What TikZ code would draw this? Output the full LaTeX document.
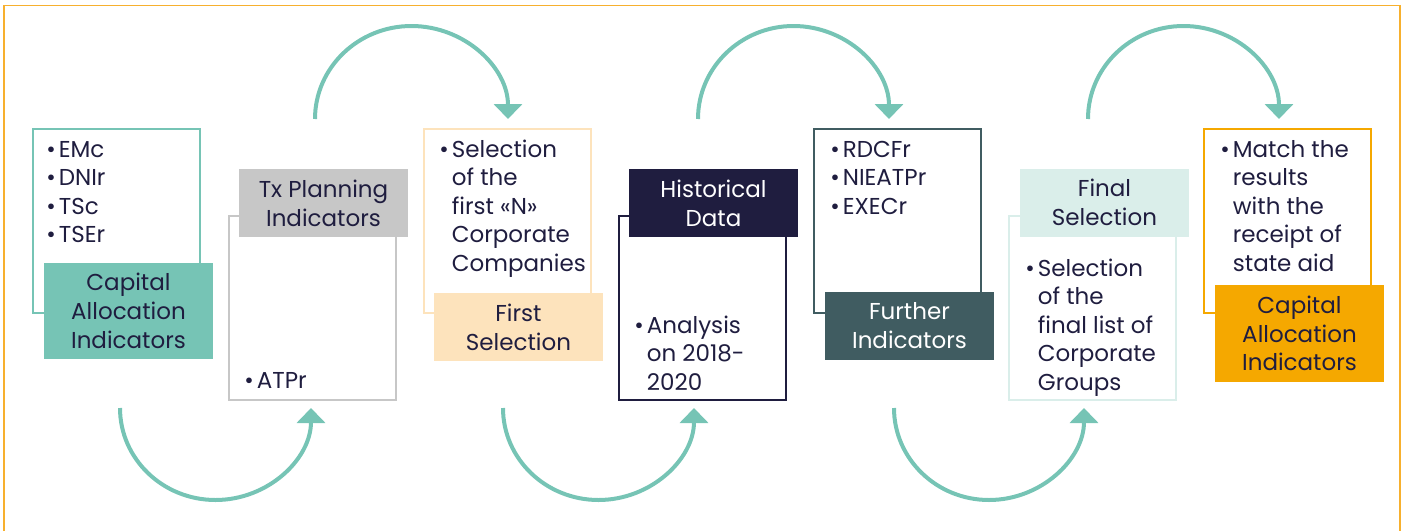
\documentclass[tikz,border=0pt]{standalone}
\usepackage{fontspec}
\setmainfont{Poppins}
\usetikzlibrary{arrows.meta}

\definecolor{inkblue}{HTML}{1F1D3F}
\definecolor{frameorange}{HTML}{F7B02E}
\definecolor{capteal}{HTML}{76C4B5}
\definecolor{txgray}{HTML}{C7C7C7}
\definecolor{firstorange}{HTML}{FDE3BC}
\definecolor{histnavy}{HTML}{1F1D3F}
\definecolor{furthteal}{HTML}{405C61}
\definecolor{finalmint}{HTML}{DAEEEA}
\definecolor{matchorange}{HTML}{F5A800}

\tikzset{
  outl/.style={draw, line width=1pt, minimum width=83.5pt, minimum height=92pt, inner sep=0pt},
  lbl/.style={minimum width=84.5pt, minimum height=34pt, inner sep=0pt, align=center,
    text=inkblue, font=\fontsize{11.5}{14.4}\selectfont},
  items/.style={anchor=base west, inner sep=0pt, text=inkblue,
    font=\fontsize{11.5}{14.25}\selectfont},
  flow/.style={draw=capteal, line width=2pt, -{Triangle[width=14pt,length=7.5pt]}}
}

\newcommand{\blt}{\textbullet}
\newenvironment{bullets}{\begin{tabular}[t]{@{}l@{\hspace{1.5pt}}l@{}}}{\end{tabular}}

\begin{document}
\begin{tikzpicture}[x=0.5pt,y=0.5pt]
  \useasboundingbox (0,0) rectangle (1405,-531);

  % frame
  \draw[frameorange, line width=0.75pt] (4,-531) -- (4,-5.5) -- (1400,-5.5) -- (1400,-531);

  % capital allocation
  \node[outl, draw=capteal] (o1) at (116.5,-221) {};
  \node[lbl, fill=capteal, minimum height=48pt] (l1) at (128.5,-311) {Capital\\Allocation\\Indicators};
  \node[items] (t1) at (46,-157) {\begin{bullets}
    \blt & EMc\\ \blt & DNIr\\ \blt & TSc\\ \blt & TSEr\end{bullets}};

  % tx planning
  \node[outl, draw=txgray] (o2) at (312.5,-308) {};
  \node[lbl, fill=txgray] (l2) at (323.5,-203) {Tx Planning\\Indicators};
  \node[items] (t2) at (244,-388) {\begin{bullets}
    \blt & ATPr\end{bullets}};

  % first selection
  \node[outl, draw=firstorange] (o3) at (507.5,-221) {};
  \node[lbl, fill=firstorange] (l3) at (518.5,-327) {First\\Selection};
  \node[items] (t3) at (439,-157) {\begin{bullets}
    \blt & Selection\\ & of the\\ & first «N»\\ & Corporate\\ & Companies\end{bullets}};

  % historical data
  \node[outl, draw=histnavy] (o4) at (702.5,-308) {};
  \node[lbl, fill=histnavy, text=white] (l4) at (713.5,-203) {Historical\\Data};
  \node[items] (t4) at (634,-333) {\begin{bullets}
    \blt & Analysis\\ & on 2018-\\ & 2020\end{bullets}};

  % further indicators
  \node[outl, draw=furthteal] (o5) at (897.5,-221) {};
  \node[lbl, fill=furthteal, text=white] (l5) at (909.5,-325.5) {Further\\Indicators};
  \node[items] (t5) at (830,-157) {\begin{bullets}
    \blt & RDCFr\\ \blt & NIEATPr\\ \blt & EXECr\end{bullets}};

  % final selection
  \node[outl, draw=finalmint] (o6) at (1092.5,-307.5) {};
  \node[lbl, fill=finalmint] (l6) at (1104.5,-202.5) {Final\\Selection};
  \node[items] (t6) at (1025,-276) {\begin{bullets}
    \blt & Selection\\ & of the\\ & final list of\\ & Corporate\\ & Groups\end{bullets}};

  % match with state aid
  \node[outl, draw=matchorange] (o7) at (1287.5,-221) {};
  \node[lbl, fill=matchorange, minimum height=48.5pt] (l7) at (1299.5,-333.5) {Capital\\Allocation\\Indicators};
  \node[items] (t7) at (1220,-157) {\begin{bullets}
    \blt & Match the\\ & results\\ & with the\\ & receipt of\\ & state aid\end{bullets}};

  % arcs between the steps
  \coordinate (a1) at (120,-408);
  \coordinate (a2) at (315,-119);
  \coordinate (a3) at (503,-408);
  \coordinate (a4) at (698,-119);
  \coordinate (a5) at (894,-408);
  \coordinate (a6) at (1088,-119);
  \draw[flow] (a1) arc[start angle=180, end angle=360, x radius=95.5, y radius=92];
  \draw[flow] (a2) arc[start angle=180, end angle=0, x radius=96.5, y radius=93];
  \draw[flow] (a3) arc[start angle=180, end angle=360, x radius=95.5, y radius=92];
  \draw[flow] (a4) arc[start angle=180, end angle=0, x radius=95.5, y radius=93];
  \draw[flow] (a5) arc[start angle=180, end angle=360, x radius=95, y radius=92];
  \draw[flow] (a6) arc[start angle=180, end angle=0, x radius=95.5, y radius=93];
\end{tikzpicture}
\end{document}
